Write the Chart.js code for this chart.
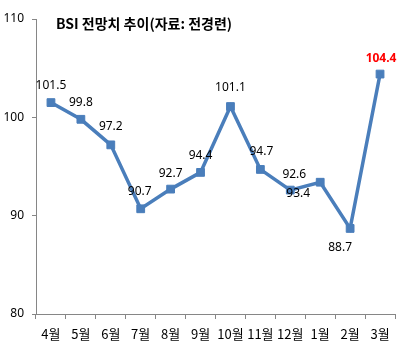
<!DOCTYPE html>
<html>
<head>
<meta charset="utf-8">
<script src="https://cdn.jsdelivr.net/npm/chart.js@4.4.1/dist/chart.umd.min.js"></script>
<style>
  html, body { margin: 0; padding: 0; background: #ffffff; }
  #wrap { width: 402px; height: 350px; position: relative; }
</style>
</head>
<body>
<div id="wrap"><canvas id="c" width="402" height="350"></canvas></div>
<script>
// 월별 BSI 전망치
const months = ['4월', '5월', '6월', '7월', '8월', '9월', '10월', '11월', '12월', '1월', '2월', '3월'];
const bsiValues = [101.5, 99.8, 97.2, 90.7, 92.7, 94.4, 101.1, 94.7, 92.6, 93.4, 88.7, 104.4];
const yTicks = [80, 90, 100, 110];
const chartTitle = 'BSI 전망치 추이(자료: 전경련)';

// 값 라벨 위치 조정 (점 기준 px)
const labelOffsets = [
  [0, -17], [0, -17], [0, -18], [-1, -17], [0, -16], [0, -17],
  [0, -19], [1, -18], [4, -16], [-22, 11], [-10, 19], [1, -15]
];
const highlightIndex = 11;

const FONT = "'Noto Sans', 'Noto Sans CJK KR', sans-serif";
const KFONT = "'Noto Sans CJK KR', 'Noto Sans', sans-serif";
const AXIS = '#868686';
const BLUE = '#4A7EBB';

const valueLabels = {
  id: 'valueLabels',
  afterDatasetsDraw(chart) {
    const ctx = chart.ctx;
    const meta = chart.getDatasetMeta(0);
    ctx.save();
    ctx.textAlign = 'center';
    ctx.textBaseline = 'middle';
    meta.data.forEach((pt, i) => {
      const v = bsiValues[i];
      const [dx, dy] = labelOffsets[i];
      if (i === highlightIndex) {
        ctx.fillStyle = '#ff0000';
        ctx.font = 'bold 12px ' + FONT;
      } else {
        ctx.fillStyle = '#000000';
        ctx.font = '12px ' + FONT;
      }
      ctx.fillText(v.toFixed(1), pt.x + dx, pt.y + dy);
    });
    ctx.restore();
  }
};

const titleText = {
  id: 'titleText',
  afterDraw(chart) {
    const ctx = chart.ctx;
    ctx.save();
    ctx.fillStyle = '#000000';
    ctx.font = 'bold 14px ' + KFONT;
    ctx.textAlign = 'left';
    ctx.textBaseline = 'middle';
    ctx.fillText(chartTitle, chart.chartArea.left + 20, chart.chartArea.top + 5);
    ctx.restore();
  }
};

new Chart(document.getElementById('c'), {
  type: 'line',
  data: {
    labels: months,
    datasets: [{
      data: bsiValues,
      borderColor: BLUE,
      backgroundColor: BLUE,
      borderWidth: 3.5,
      pointStyle: 'rect',
      pointRadius: 5.5,
      pointBorderWidth: 1,
      pointBackgroundColor: BLUE,
      pointBorderColor: BLUE,
      tension: 0,
      fill: false
    }]
  },
  options: {
    responsive: false,
    animation: false,
    devicePixelRatio: 1,
    layout: { padding: { top: 19, right: 7, left: 0, bottom: 0 } },
    plugins: {
      legend: { display: false },
      tooltip: { enabled: false },
      title: { display: false }
    },
    scales: {
      x: {
        offset: true,
        grid: {
          display: true,
          drawOnChartArea: false,
          drawTicks: true,
          tickLength: 5,
          color: AXIS,
          offset: true
        },
        border: { display: true, color: AXIS, width: 1 },
        ticks: {
          color: '#000000',
          font: { family: KFONT, size: 13 },
          padding: 7,
          maxRotation: 0,
          autoSkip: false
        },
        afterFit(scale) { scale.height = 36; }
      },
      y: {
        min: 80,
        max: 110,
        afterBuildTicks(scale) { scale.ticks = yTicks.map(v => ({ value: v })); },
        grid: {
          display: true,
          drawOnChartArea: false,
          drawTicks: true,
          tickLength: 4,
          color: AXIS
        },
        border: { display: true, color: AXIS, width: 1 },
        ticks: {
          color: '#000000',
          font: { family: FONT, size: 12 },
          padding: 8
        },
        afterFit(scale) { scale.width = 36; }
      }
    }
  },
  plugins: [valueLabels, titleText]
});
</script>
</body>
</html>
